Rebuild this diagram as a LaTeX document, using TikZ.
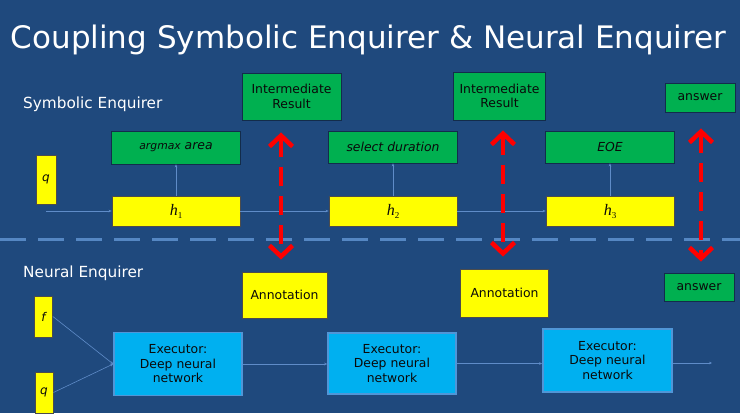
\documentclass[tikz,border=0pt]{standalone}
\usepackage{fontspec}
\setmainfont{DejaVu Sans}
\newfontfamily\tnr{Liberation Serif}
\usetikzlibrary{arrows.meta,calc}
\definecolor{bgblue}{RGB}{31,73,125}
\definecolor{ylw}{RGB}{255,255,0}
\definecolor{grn}{RGB}{0,176,80}
\definecolor{cyanbox}{RGB}{0,176,240}
\definecolor{cyanedge}{RGB}{80,150,215}
\definecolor{conn}{RGB}{95,140,200}
\definecolor{sepline}{RGB}{85,135,195}
\definecolor{darktxt}{RGB}{10,10,10}
\newcommand{\hsub}[1]{{\tnr\fontsize{16}{18}\selectfont\itshape h\raisebox{-3pt}{\upshape\fontsize{9}{10}\selectfont #1}}}
\tikzset{
  boxbase/.style={inner sep=0pt, text=darktxt, font=\fontsize{12.4}{14.5}\selectfont, align=center},
  ybox/.style={boxbase, fill=ylw, draw=black!70, line width=0.8pt},
  gbox/.style={boxbase, fill=grn, draw=bgblue!60!black, line width=0.8pt},
  ebox/.style={boxbase, fill=cyanbox, draw=cyanedge, line width=1.6pt, font=\fontsize{12.4}{14.5}\selectfont},
  conn/.style={draw=conn, line width=0.6pt, -{Stealth[length=3pt,width=2.6pt]}},
  redarr/.style={draw=red, line width=4.5pt, dash pattern=on 19pt off 10pt,
    {Straight Barb[length=11pt,width=23pt,line width=4.5pt]}-{Straight Barb[length=11pt,width=23pt,line width=4.5pt]}},
  qlabel/.style={font=\fontsize{12}{14}\selectfont\itshape},
  whitetxt/.style={text=white, inner sep=0pt}
}
\begin{document}
\begin{tikzpicture}[x=1pt,y=-1pt]
\useasboundingbox (0,0) rectangle (740,413);
\fill[bgblue] (0,0) rectangle (740,413);

% title and section labels
\node[whitetxt, anchor=base, font=\fontsize{31}{36}\selectfont] (title) at (368.5,48) {Coupling Symbolic Enquirer \& Neural Enquirer};
\node[whitetxt, anchor=base west, font=\fontsize{15.3}{18}\selectfont] (symlab) at (23,108) {Symbolic Enquirer};
\node[whitetxt, anchor=base west, font=\fontsize{15.3}{18}\selectfont] (neulab) at (23,277) {Neural Enquirer};

% separator
\draw[sepline, line width=3pt, dash pattern=on 26pt off 12pt] (0,239) -- (740,239);

% symbolic enquirer
\node[ybox, minimum width=20pt, minimum height=49pt, qlabel] (q1) at (46,179.5) {q};
\node[ybox, minimum width=128pt, minimum height=30pt] (h1) at (176,211) {\hsub{1}};
\node[ybox, minimum width=128pt, minimum height=30pt] (h2) at (393,211) {\hsub{2}};
\node[ybox, minimum width=128pt, minimum height=30pt] (h3) at (610,211.5) {\hsub{3}};
\node[gbox, minimum width=129pt, minimum height=33pt] (g1) at (176,147.5) {\itshape{\fontsize{10.8}{12}\selectfont argmax} area};
\node[gbox, minimum width=129pt, minimum height=32pt] (g2) at (393,147) {\itshape select duration};
\node[gbox, minimum width=129pt, minimum height=32pt] (g3) at (610,147) {\itshape EOE};
\node[gbox, minimum width=99pt, minimum height=47pt] (ir1) at (291.5,96.5) {Intermediate\\Result};
\node[gbox, minimum width=92pt, minimum height=48pt] (ir2) at (499.5,96) {Intermediate\\Result};
\node[gbox, minimum width=70pt, minimum height=29pt] (ans1) at (700,97.5) {answer};

\coordinate (qstart) at (46,211);
\draw[conn] (qstart) -- (h1.west);
\draw[conn] (h1.east) -- (h2.west);
\draw[conn] (h2.east) -- (h2.east -| h3.west);
\draw[conn] (h1.north) -- (g1.south);
\draw[conn] (h2.north) -- (g2.south);
\draw[conn] (h3.north) -- (g3.south);

% neural enquirer
\node[ybox, minimum width=18pt, minimum height=41pt, qlabel] (f) at (43.5,316.5) {f};
\node[ybox, minimum width=18pt, minimum height=41pt, qlabel] (q2) at (44,392.5) {q};
\node[ybox, minimum width=85pt, minimum height=46pt] (an1) at (284.5,295) {Annotation};
\node[ybox, minimum width=88pt, minimum height=48pt] (an2) at (504.5,293) {Annotation};
\node[gbox, minimum width=70pt, minimum height=28pt] (ans2) at (699,287) {answer};
\node[ebox, minimum width=128pt, minimum height=63pt] (e1) at (178,364) {Executor:\\Deep neural\\network};
\node[ebox, minimum width=128pt, minimum height=61pt] (e2) at (392,363.5) {Executor:\\Deep neural\\network};
\node[ebox, minimum width=129pt, minimum height=63pt] (e3) at (607.5,360.5) {Executor:\\Deep neural\\network};
\coordinate (eend) at (712,363);

\draw[conn] (f.east) -- (e1.west);
\draw[conn] (q2.east) -- (e1.west);
\draw[conn] (e1.east) -- (e1.east -| e2.west);
\draw[conn] (e2.east) -- (e2.east -| e3.west);
\draw[conn] (e3.east |- eend) -- (eend);

% red coupling arrows
\draw[redarr] ([xshift=-10.5pt,yshift=-12pt]ir1.south) -- ([xshift=-3.5pt,yshift=12pt]an1.north);
\draw[redarr] ([xshift=3.5pt,yshift=-10pt]ir2.south) -- ([xshift=-1.5pt,yshift=12pt]an2.north);
\draw[redarr] ([xshift=1pt,yshift=-16pt]ans1.south) -- ([xshift=2pt,yshift=11pt]ans2.north);
\end{tikzpicture}
\end{document}
